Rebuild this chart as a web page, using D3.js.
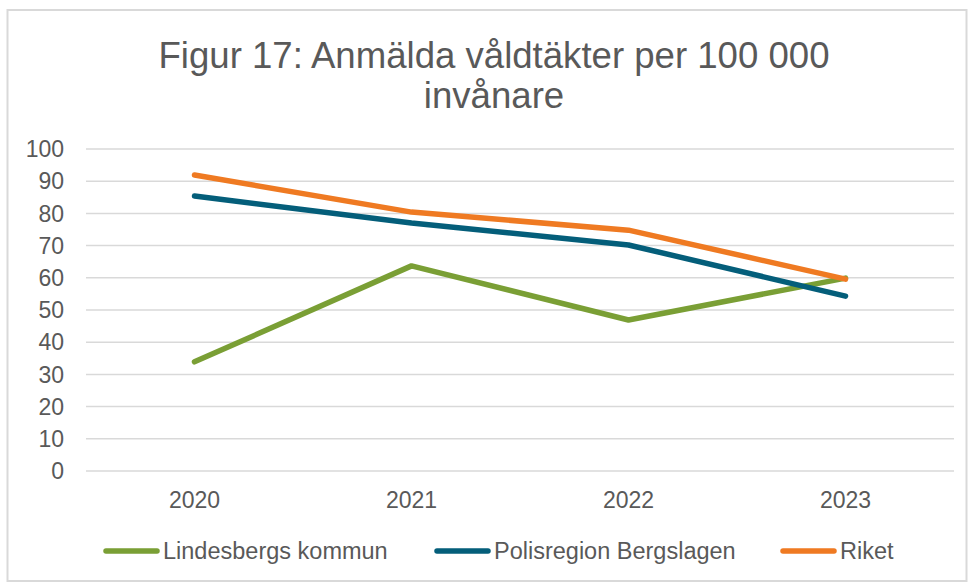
<!DOCTYPE html>
<html>
<head>
<meta charset="utf-8">
<script src="https://cdn.jsdelivr.net/npm/d3@7"></script>
<style>
  body { margin: 0; background: #fff; }
  text { font-family: "Liberation Sans", Arial, sans-serif; fill: #595959; }
</style>
</head>
<body>
<div id="chart"></div>
<script>
// Data
const years = ["2020", "2021", "2022", "2023"];
const lindesberg = [33.9, 63.7, 46.9, 59.9];
const polisregion = [85.4, 77.0, 70.2, 54.3];
const riket = [91.9, 80.4, 74.8, 59.6];
const yTicks = [0, 10, 20, 30, 40, 50, 60, 70, 80, 90, 100];

const series = [
    { name: "Lindesbergs kommun", values: lindesberg, color: "#7A9F35" },
    { name: "Polisregion Bergslagen", values: polisregion, color: "#045E7A" },
    { name: "Riket", values: riket, color: "#EF7A22" }
];

const W = 971, H = 583;
const margin = { top: 149, right: 17, bottom: 112, left: 86 };
const width = W - margin.left - margin.right,
      height = H - margin.top - margin.bottom;

const svg = d3.select("#chart").append("svg")
    .attr("width", W)
    .attr("height", H);

// Ram runt diagrammet
svg.append("rect")
    .attr("x", 7.5).attr("y", 10)
    .attr("width", W - 12).attr("height", H - 12)
    .attr("fill", "#fff")
    .attr("stroke", "#d9d9d9")
    .attr("stroke-width", 2);

// Titel
svg.append("text")
    .attr("x", 494).attr("y", 68)
    .attr("text-anchor", "middle")
    .style("font-size", "36.6px")
    .text("Figur 17: Anmälda våldtäkter per 100 000");
svg.append("text")
    .attr("x", 494).attr("y", 108)
    .attr("text-anchor", "middle")
    .style("font-size", "36.6px")
    .text("invånare");

const g = svg.append("g")
    .attr("transform", `translate(${margin.left},${margin.top})`);

const x = d3.scalePoint()
    .domain(years)
    .range([0, width])
    .padding(0.5);

const y = d3.scaleLinear()
    .domain([0, 100])
    .range([height, 0]);

// Rutnät
g.append("g")
    .selectAll("line")
    .data(yTicks)
    .enter()
    .append("line")
    .attr("x1", 0).attr("x2", width)
    .attr("y1", d => y(d)).attr("y2", d => y(d))
    .attr("stroke", "#d9d9d9")
    .attr("stroke-width", 1.5);

// Y-axel etiketter
g.append("g")
    .selectAll("text")
    .data(yTicks)
    .enter()
    .append("text")
    .attr("x", -22)
    .attr("y", d => y(d))
    .attr("dy", "0.36em")
    .attr("text-anchor", "end")
    .style("font-size", "23px")
    .text(d => d);

// X-axel etiketter
g.append("g")
    .selectAll("text")
    .data(years)
    .enter()
    .append("text")
    .attr("x", d => x(d))
    .attr("y", height + 37)
    .attr("text-anchor", "middle")
    .style("font-size", "23px")
    .text(d => d);

// Linjer
const line = d3.line()
    .x((d, i) => x(years[i]))
    .y(d => y(d));

g.selectAll(".serie")
    .data(series)
    .enter()
    .append("path")
    .attr("class", "serie")
    .attr("d", d => line(d.values))
    .attr("fill", "none")
    .attr("stroke", d => d.color)
    .attr("stroke-width", 5.5)
    .attr("stroke-linecap", "round")
    .attr("stroke-linejoin", "round");

// Legend
const legendX = [106, 437, 783];
const legend = svg.append("g")
    .selectAll("g")
    .data(series)
    .enter()
    .append("g")
    .attr("transform", (d, i) => `translate(${legendX[i]},551)`);

legend.append("line")
    .attr("x1", 0).attr("x2", 51)
    .attr("y1", 0).attr("y2", 0)
    .attr("stroke", d => d.color)
    .attr("stroke-width", 5.5)
    .attr("stroke-linecap", "round");

legend.append("text")
    .attr("x", 57)
    .attr("y", 0)
    .attr("dy", "0.36em")
    .style("font-size", "23.5px")
    .text(d => d.name);
</script>
</body>
</html>
